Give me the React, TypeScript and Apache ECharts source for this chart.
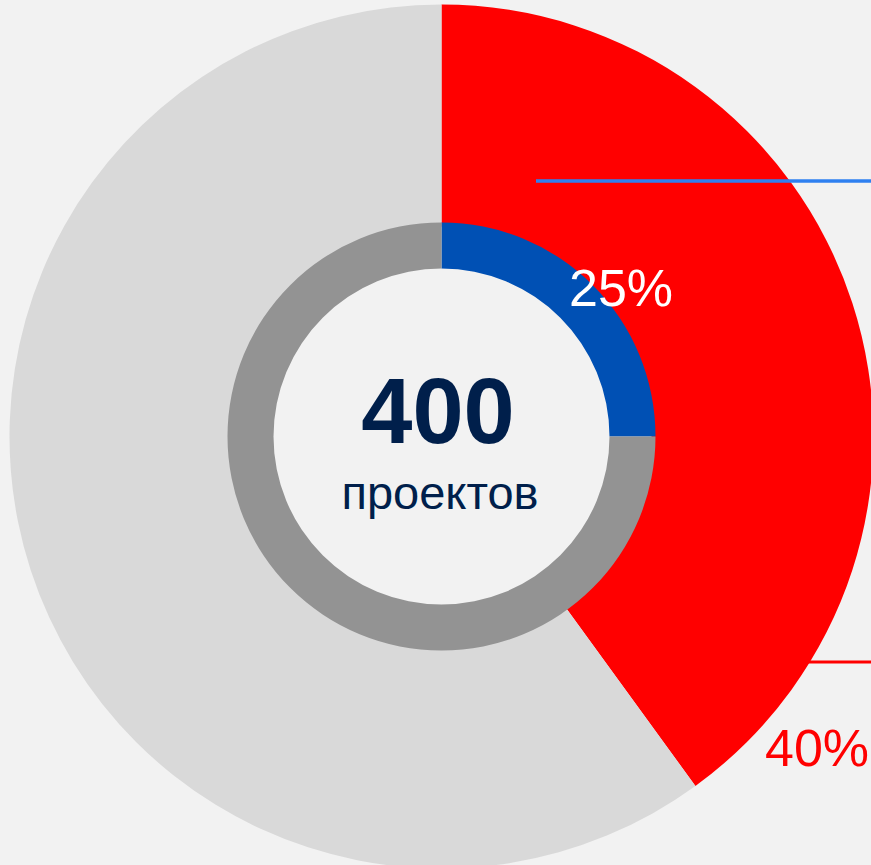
import React, { useEffect, useRef } from "react";
import * as echarts from "echarts";

const outerNames = ["Доля A", "Остальные"];
const outerValues = [40, 60];
const innerNames = ["Доля B", "Остальные"];
const innerValues = [25, 75];
const totalValue = 400;
const totalLabel = "проектов";

export default function App() {
  const ref = useRef<HTMLDivElement>(null);
  useEffect(() => {
    if (!ref.current) return;
    const chart = echarts.init(ref.current, null, { renderer: "svg" });
    const cx = 441.5;
    const cy = 436.5;
    chart.setOption({
      animation: false,
      backgroundColor: "#F2F2F2",
      series: [
        {
          type: "pie",
          center: [cx, cy],
          radius: [210, 432],
          startAngle: 90,
          clockwise: true,
          z: 1,
          label: { show: false },
          labelLine: { show: false },
          emphasis: { disabled: true },
          itemStyle: { borderWidth: 0 },
          data: outerNames.map((n, i) => ({
            name: n,
            value: outerValues[i],
            itemStyle: { color: i === 0 ? "#FF0000" : "#D9D9D9" },
          })),
        },
        {
          type: "pie",
          center: [cx, cy],
          radius: [168, 214],
          startAngle: 90,
          clockwise: true,
          z: 2,
          label: { show: false },
          labelLine: { show: false },
          emphasis: { disabled: true },
          itemStyle: { borderWidth: 0 },
          data: innerNames.map((n, i) => ({
            name: n,
            value: innerValues[i],
            itemStyle: { color: i === 0 ? "#0050B4" : "#939393" },
          })),
        },
      ],
      graphic: [
        {
          type: "line",
          shape: { x1: 536, y1: 181, x2: 871, y2: 181 },
          style: { stroke: "#2F80F0", lineWidth: 3.5 },
          z: 10,
        },
        {
          type: "line",
          shape: { x1: 806, y1: 662, x2: 871, y2: 662 },
          style: { stroke: "#FF0000", lineWidth: 3 },
          z: 10,
        },
        {
          type: "text",
          x: 621,
          y: 314,
          style: {
            text: `${innerValues[0]}%`,
            fill: "#FFFFFF",
            font: "52px 'Liberation Sans', Arial, sans-serif",
            textAlign: "center",
            verticalAlign: "bottom",
          },
          z: 10,
        },
        {
          type: "text",
          x: 765,
          y: 774,
          style: {
            text: `${outerValues[0]}%`,
            fill: "#FF0000",
            font: "52px 'Liberation Sans', Arial, sans-serif",
            textAlign: "left",
            verticalAlign: "bottom",
          },
          z: 10,
        },
        {
          type: "text",
          x: 438,
          y: 457,
          style: {
            text: String(totalValue),
            fill: "#001F4B",
            font: "bold 92px 'Liberation Sans', Arial, sans-serif",
            textAlign: "center",
            verticalAlign: "bottom",
          },
          z: 10,
        },
        {
          type: "text",
          x: 440,
          y: 516,
          style: {
            text: totalLabel,
            fill: "#001F4B",
            font: "47px 'Liberation Sans', Arial, sans-serif",
            textAlign: "center",
            verticalAlign: "bottom",
          },
          z: 10,
        },
      ],
    });
    return () => chart.dispose();
  }, []);
  return (
    <div
      ref={ref}
      style={{ position: "fixed", left: 0, top: 0, width: 871, height: 865 }}
    />
  );
}
